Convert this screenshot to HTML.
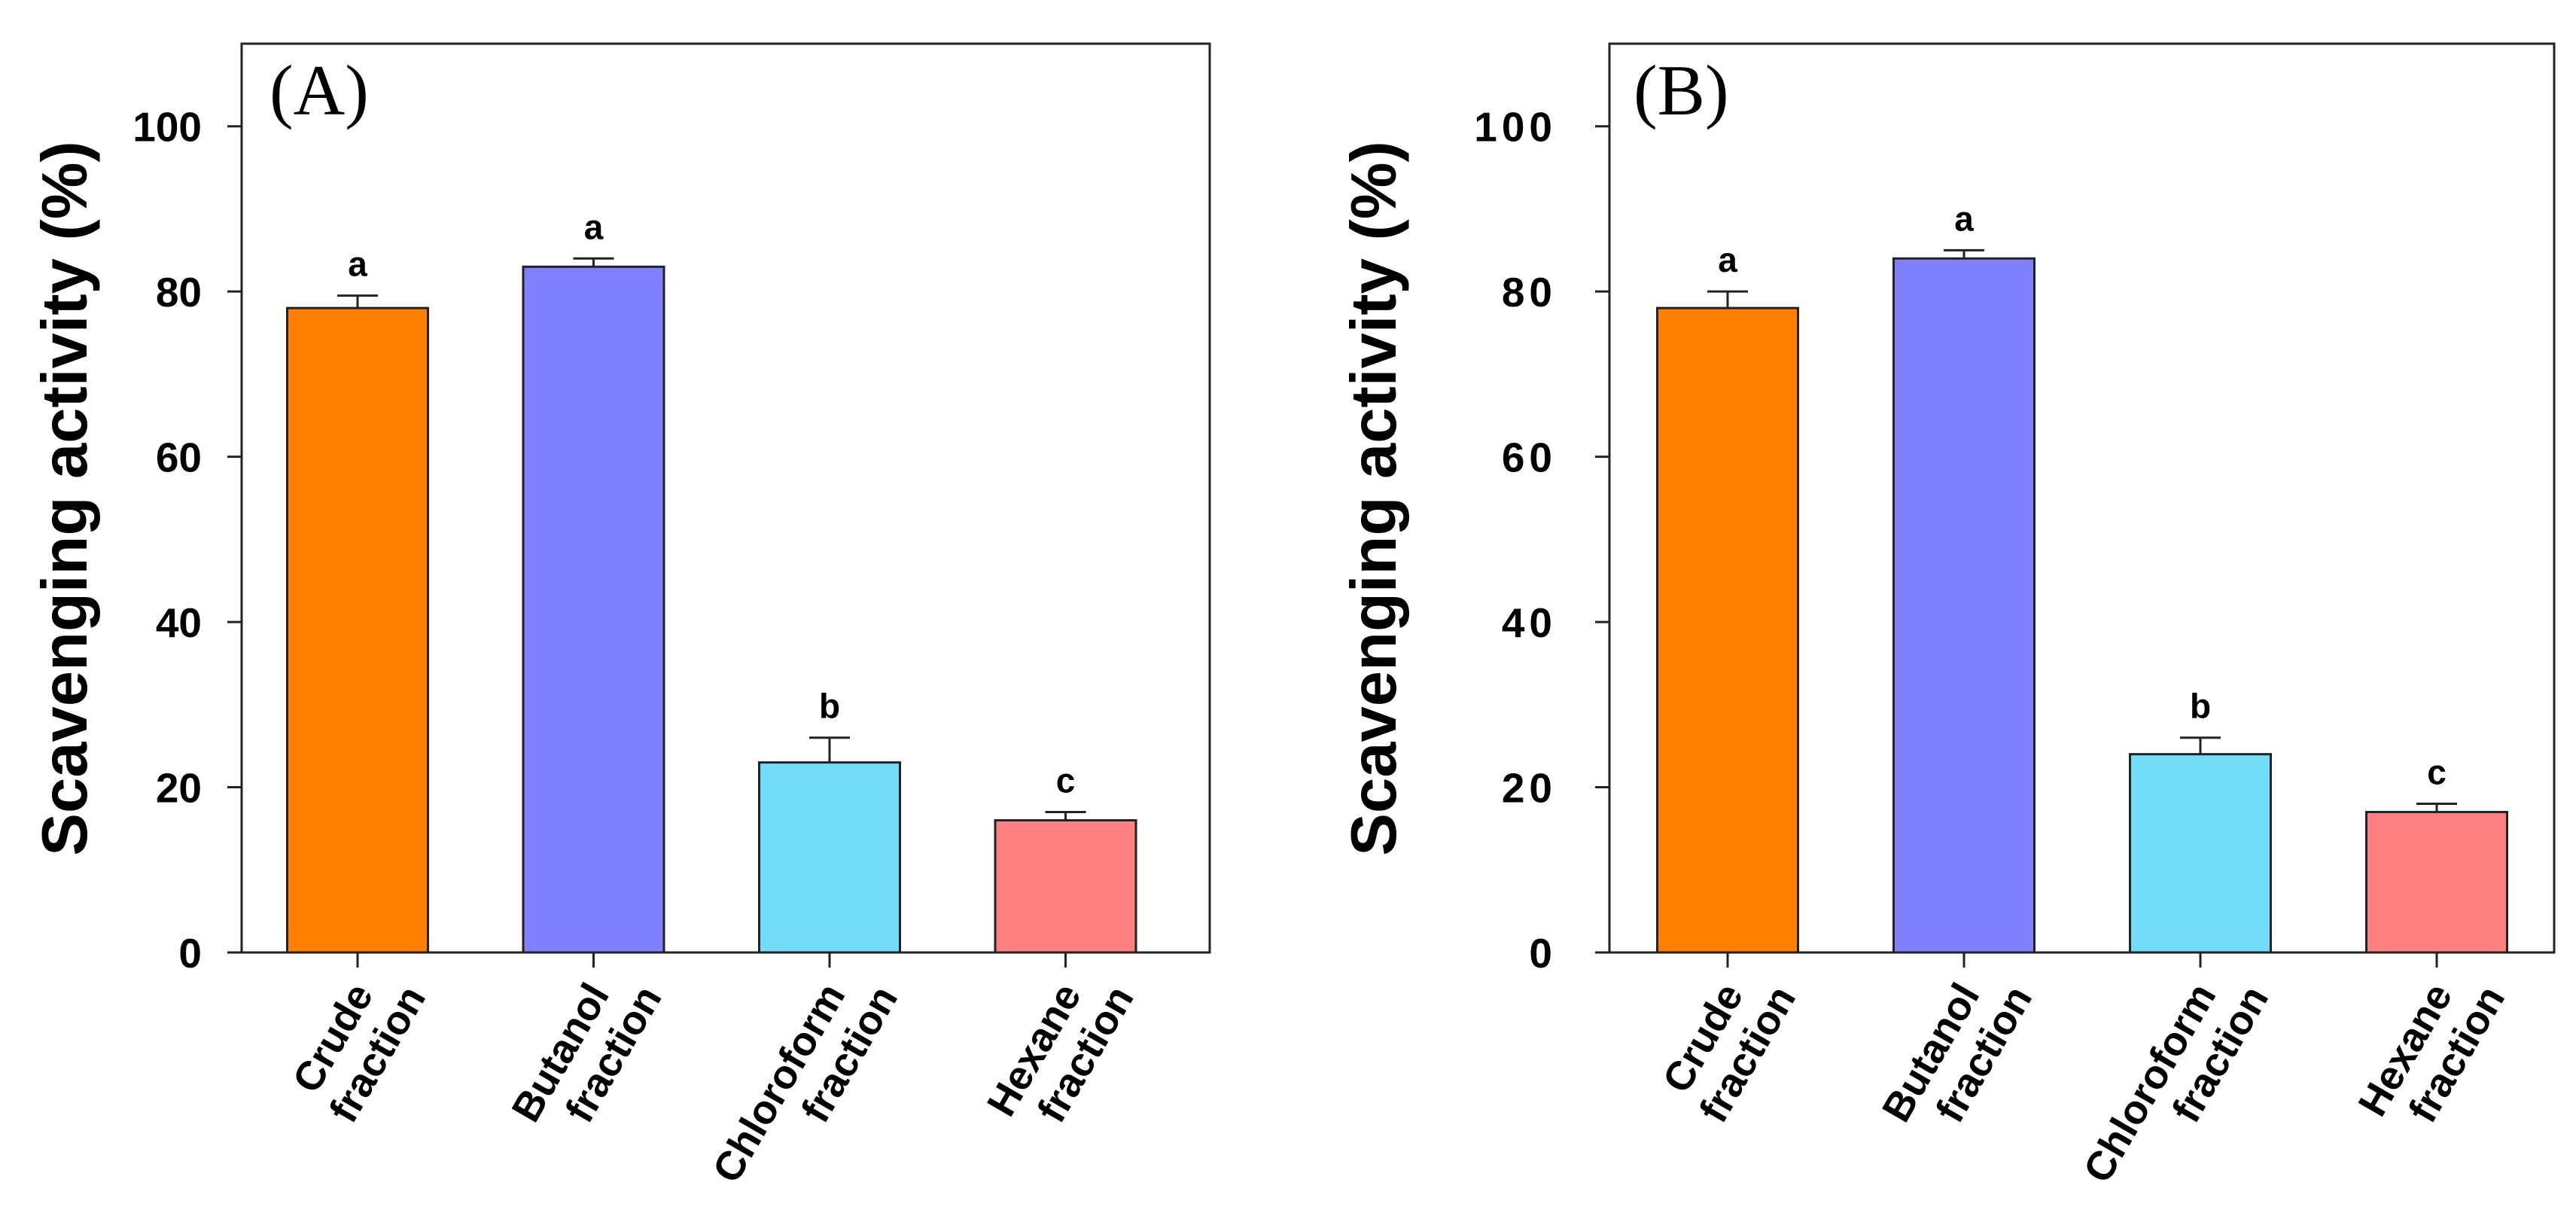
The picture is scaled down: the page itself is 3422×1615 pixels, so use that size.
<!DOCTYPE html>
<html><head><meta charset="utf-8"><style>
html,body{margin:0;padding:0;background:#fff;}
svg{display:block;font-family:"Liberation Sans",Arial,sans-serif;}
</style></head><body>
<svg id="fig" width="3422" height="1615" viewBox="0 0 3422 1615" xmlns="http://www.w3.org/2000/svg"></svg>
<script>
const categories = [["Crude","fraction"],["Butanol","fraction"],["Chloroform","fraction"],["Hexane","fraction"]];
const valuesA = [78, 83, 23, 16];
const errorsA = [1.5, 1, 3, 1];
const valuesB = [78, 84, 24, 17];
const errorsB = [2, 1, 2, 1];
const lettersA = ["a","a","b","c"];
const lettersB = ["a","a","b","c"];
const yTicks = [0, 20, 40, 60, 80, 100];
const colors = ["#ff8000","#8080ff","#73dcf8","#ff8080"];
const NS = "http://www.w3.org/2000/svg";
const svg = document.getElementById("fig");
function mk(tag, attrs, parent, text){
  const e = document.createElementNS(NS, tag);
  for (const k in attrs) e.setAttribute(k, attrs[k]);
  if (text !== undefined) e.textContent = text;
  (parent||svg).appendChild(e);
  return e;
}
function panel(p){
  const g = mk("g", {});
  
  
  const y = v => p.bottom - (v/110)*(p.bottom - p.top);
  const x = i => p.left + p.off + i*p.step;
  const bw = 187;
  p.values.forEach((v,i)=>{
    const err = p.errors[i];
    const eb = mk("line",{x1:x(i),x2:x(i),y1:y(v),y2:y(v+err),stroke:"#222","stroke-width":3},g);
    
    
    const cap = mk("line",{x1:x(i)-27,x2:x(i)+27,y1:y(v+err),y2:y(v+err),stroke:"#222","stroke-width":3},g);
    
    
    const r = mk("rect",{x:x(i)-bw/2,y:y(v),width:bw,height:y(0)-y(v),fill:colors[i],stroke:"#222","stroke-width":3},g);
    
    
    const t = mk("text",{x:x(i),y:y(v+err)-26,"text-anchor":"middle","font-size":46,"font-weight":"bold"},g,p.letters[i]);
    
    
    const tk = mk("line",{x1:x(i),x2:x(i),y1:p.bottom,y2:p.bottom+20,stroke:"#222","stroke-width":3},g);
    
    
    const lab = mk("text",{transform:`translate(${x(i)+22},${p.bottom+55}) rotate(-60)`,"text-anchor":"end","font-size":54,"font-weight":"bold"},g);
    
    
    mk("tspan",{x:0,y:0},lab,categories[i][0]);
    mk("tspan",{x:32,y:62},lab,categories[i][1]);
  });
  const fr = mk("rect",{x:p.left,y:p.top,width:p.right-p.left,height:p.bottom-p.top,fill:"none",stroke:"#222","stroke-width":3},g);
  
  
  yTicks.forEach(v=>{
    const l = mk("line",{x1:p.left-19,x2:p.left,y1:y(v),y2:y(v),stroke:"#222","stroke-width":3},g);
    
    
    const t = mk("text",{x:p.labelRight,y:y(v)+20,"text-anchor":"end","font-size":55,"font-weight":"bold","letter-spacing":p.ls},g,String(v));
    
    
  });
  const yt = mk("text",{transform:`translate(${p.titleX},662) rotate(-90)`,"text-anchor":"middle","font-size":85,"font-weight":"bold"},g,"Scavenging activity (%)");
  
  
  const pl = mk("text",{x:p.labelX,y:152,"font-size":95,"font-family":"Liberation Serif, serif"},g,"("+p.id+")");
  
  
}
panel({id:"A",left:321,right:1607,top:58,bottom:1265,off:154,step:313.5,values:valuesA,errors:errorsA,letters:lettersA,titleX:115,ls:0,labelRight:268,labelX:358});
panel({id:"B",left:2138,right:3393,top:58,bottom:1265,off:157,step:314,values:valuesB,errors:errorsB,letters:lettersB,titleX:1854,ls:6,labelRight:2068,labelX:2170});
</script>
</body></html>
